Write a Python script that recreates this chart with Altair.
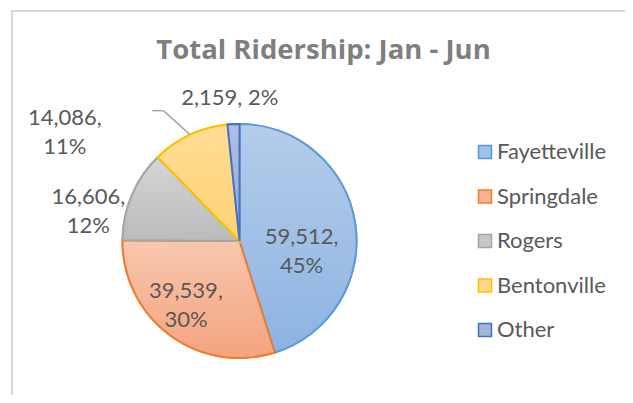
import altair as alt
import pandas as pd

categories = ["Fayetteville", "Springdale", "Rogers", "Bentonville", "Other"]
riders = [59512, 39539, 16606, 14086, 2159]
pct_labels = [45, 30, 12, 11, 2]

df = pd.DataFrame({"category": categories, "riders": riders, "pct": pct_labels,
                   "order": list(range(len(categories)))})

CX, CY, R = 231.5, 233, 117
FONT = "Lato"
TXT = "#595959"

fill_solid = ["#a1c0e6", "#f5b393", "#c8c8c8", "#ffd888", "#a2b3de"]
stroke_cols = ["#5b9bd5", "#ed7d31", "#a5a5a5", "#ffc000", "#4472c4"]
grad_stops = {
    "Fayetteville": ("#b4cdea", "#8db3e2"),
    "Springdale": ("#f8c7ae", "#f4a37e"),
    "Rogers": ("#d5d5d5", "#bbbbbb"),
    "Bentonville": ("#ffdd96", "#ffd273"),
    "Other": ("#b0bee3", "#93a9d9"),
}
# label placement style: (radius, dx, dy)
label_style = {
    "Fayetteville": (70, -7, 7),
    "Springdale": (70, -12, -6),
    "Rogers": (150, -13, 15),
    "Bentonville": (150, -111, 13),
    "Other": (150, -2, 7),
}

base = alt.Chart(df).transform_joinaggregate(
    total="sum(riders)"
).transform_window(
    cum="sum(riders)", sort=[alt.SortField("order")]
).transform_calculate(
    start="(datum.cum - datum.riders) / datum.total * 2 * PI",
    end="datum.cum / datum.total * 2 * PI",
).transform_calculate(
    mid="(datum.start + datum.end) / 2",
    label="format(datum.riders, ',') + (datum.category == 'Other' ? ', ' : ',\\n') + datum.pct + '%'",
)

legend = alt.Legend(
    title=None, orient="none", legendX=466, legendY=133, padding=0,
    symbolType="square", symbolSize=169, symbolStrokeWidth=1.5,
    labelFont=FONT, labelFontSize=22, labelColor=TXT, labelOffset=1,
    rowPadding=22.5, labelLimit=300,
)

pie_base = base.mark_arc(outerRadius=R, strokeWidth=2).encode(
    x=alt.value(CX), y=alt.value(CY),
    theta=alt.Theta("start:Q", scale=None), theta2="end:Q",
    fill=alt.Fill("category:N", scale=alt.Scale(domain=categories, range=fill_solid), legend=legend),
    stroke=alt.Stroke("category:N", scale=alt.Scale(domain=categories, range=stroke_cols), legend=legend),
)

layers = [pie_base]
for cat, sc in zip(categories, stroke_cols):
    top, bot = grad_stops[cat]
    layers.append(
        base.transform_filter(alt.datum.category == cat).mark_arc(
            outerRadius=R, strokeWidth=2, stroke=sc,
            fill=alt.Gradient(gradient="linear", x1=0, y1=0, x2=0, y2=1,
                              stops=[alt.GradientStop(color=top, offset=0),
                                     alt.GradientStop(color=bot, offset=1)]),
        ).encode(
            x=alt.value(CX), y=alt.value(CY),
            theta=alt.Theta("start:Q", scale=None), theta2="end:Q",
        )
    )

# leader line for Bentonville label
lead = base.transform_filter(alt.datum.category == "Bentonville").transform_calculate(
    ax=f"{CX} + {R + 1} * sin(datum.mid)",
    ay=f"{CY} - {R + 1} * cos(datum.mid)",
).transform_calculate(
    bx="datum.ax - 26", by="datum.ay - 23.5",
).transform_calculate(
    cxx="datum.bx - 11",
)
layers.append(lead.mark_rule(color="#a6a6a6", strokeWidth=1.5).encode(
    x=alt.X("ax:Q", scale=None), y=alt.Y("ay:Q", scale=None),
    x2="bx:Q", y2="by:Q"))
layers.append(lead.mark_rule(color="#a6a6a6", strokeWidth=1.5).encode(
    x=alt.X("bx:Q", scale=None), y=alt.Y("by:Q", scale=None),
    x2="cxx:Q", y2="by:Q"))

for cat in categories:
    r, dx, dy = label_style[cat]
    layers.append(
        base.transform_filter(alt.datum.category == cat).transform_calculate(
            lx=f"{CX} + {r} * sin(datum.mid)",
            ly=f"{CY} - {r} * cos(datum.mid)",
        ).mark_text(font=FONT, fontSize=22, color=TXT, lineBreak="\n", lineHeight=29,
                    align="center", baseline="middle", dx=dx, dy=dy).encode(
            x=alt.X("lx:Q", scale=None), y=alt.Y("ly:Q", scale=None),
            text="label:N",
        )
    )

title = alt.Chart(pd.DataFrame({"t": ["Total Ridership: Jan - Jun"]})).mark_text(
    font="Open Sans", fontSize=27.5, fontWeight="bold", color="#7f7f7f", align="center", baseline="alphabetic"
).encode(x=alt.value(315.5), y=alt.value(51), text="t:N")

border = alt.Chart(pd.DataFrame({"a": [0]})).mark_rect(
    fill=None, fillOpacity=0, stroke="#d9d9d9", strokeWidth=2
).encode(x=alt.value(4), y=alt.value(3), x2=alt.value(2000), y2=alt.value(2000))

chart = alt.layer(border, *layers, title).properties(
    width=617, height=387, padding=0,
    autosize=alt.AutoSizeParams(type="none"),
    background="white",
).configure_view(stroke=None)

chart.save("out.html", embed_options={"renderer": "svg", "actions": False})
